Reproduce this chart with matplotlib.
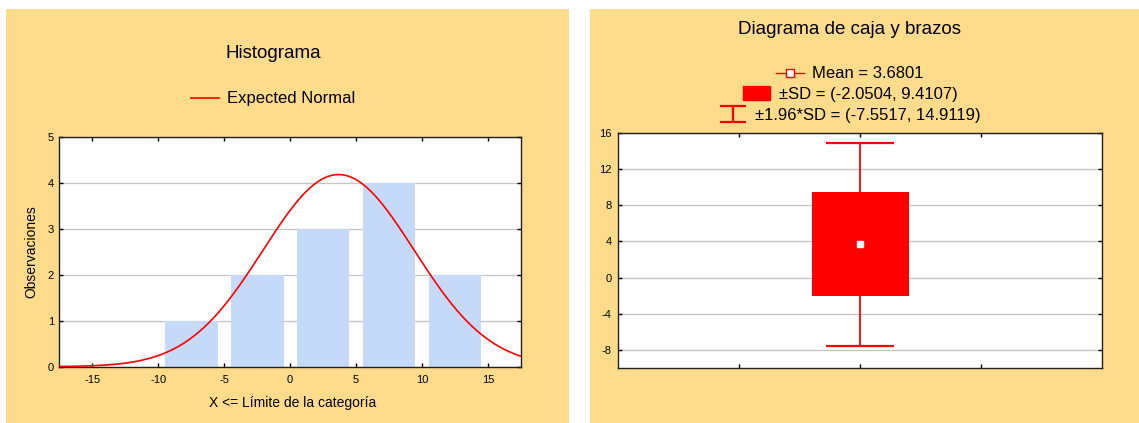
import matplotlib
matplotlib.use("Agg")
import matplotlib.pyplot as plt
import numpy as np
from matplotlib.patches import Rectangle, Patch
from matplotlib.lines import Line2D
from matplotlib.path import Path

plt.rcParams['font.family'] = ['Liberation Sans', 'DejaVu Sans']
plt.rcParams['axes.unicode_minus'] = False

# histogram data
bin_centers = [-7.5, -2.5, 2.5, 7.5, 12.5]
counts = [1, 2, 3, 4, 2]
bin_width = 5.0
x_ticks = [-15, -10, -5, 0, 5, 10, 15]
hist_yticks = [0, 1, 2, 3, 4, 5]

# box plot data
mean = 3.6801
sd_low, sd_high = -2.0504, 9.4107
ci_low, ci_high = -7.5517, 14.9119
box_yticks = [-8, -4, 0, 4, 8, 12, 16]

W, H = 1139, 423
YELLOW = '#FFDC8C'
BLUE = '#C4DAF8'
GRID = '#C4C4C4'

fig = plt.figure(figsize=(W / 100, H / 100), dpi=100)
fig.patch.set_facecolor('white')


def fx(px):
    return px / W


def fy(py):
    return 1 - py / H


# yellow panels (behind the axes)
fig.patches.append(Rectangle((fx(6), 0), fx(563), fy(9), transform=fig.transFigure,
                             facecolor=YELLOW, edgecolor='none', zorder=-5))
fig.patches.append(Rectangle((fx(590), 0), fx(549), fy(9), transform=fig.transFigure,
                             facecolor=YELLOW, edgecolor='none', zorder=-5))


def style_axes(ax, ypad):
    ax.set_facecolor('white')
    for s in ax.spines.values():
        s.set_color('#202020')
        s.set_linewidth(1.0)
    ax.tick_params(direction='in', top=True, right=True, length=3, width=1,
                   labelsize=8, colors='black')
    ax.tick_params(axis='y', pad=ypad)
    ax.grid(axis='y', color=GRID, lw=0.9, zorder=1)
    ax.set_axisbelow(True)


# ---------------- histogram ----------------
ax1 = fig.add_axes([fx(59.4), fy(366.7), fx(520.8 - 59.4), (366.7 - 136.7) / H])
style_axes(ax1, 4)
ax1.tick_params(axis='x', pad=6)
ax1.bar(bin_centers, counts, width=0.8 * bin_width, color=BLUE, zorder=2)

n = sum(counts)
sd = sd_high - mean
xs = np.linspace(-17.5, 17.5, 400)
expected = n * bin_width / (sd * np.sqrt(2 * np.pi)) * np.exp(-0.5 * ((xs - mean) / sd) ** 2)
ax1.plot(xs, expected, color='red', lw=1.2, zorder=3)

ax1.set_xlim(-17.5, 17.5)
ax1.set_ylim(0, 5)
ax1.set_xticks(x_ticks)
ax1.set_yticks(hist_yticks)

fig.text(fx(273), fy(54), 'Histograma', ha='center', va='center', fontsize=13.5)
fig.text(fx(293), fy(403), 'X <= Límite de la categoría', ha='center', va='center', fontsize=10)
fig.text(fx(31), fy(252), 'Observaciones', ha='center', va='center', rotation=90, fontsize=10)
fig.legend(handles=[Line2D([], [], color='red', lw=1.2)], labels=['Expected Normal'],
           loc='center', bbox_to_anchor=(fx(273), fy(99)), frameon=False, fontsize=12,
           handlelength=1.7, handletextpad=0.5)

# ---------------- box plot ----------------
ax2 = fig.add_axes([fx(618), fy(368.3), fx(1102.3 - 618), (368.3 - 132.7) / H])
style_axes(ax2, 4.5)
xpos = 2
ax2.vlines(xpos, ci_low, ci_high, color='red', lw=1.3, zorder=2)
ax2.hlines([ci_low, ci_high], xpos - 0.28, xpos + 0.28, color='red', lw=1.6, zorder=2)
ax2.bar([xpos], [sd_high - sd_low], bottom=sd_low, width=0.8, color='red', zorder=3)
ax2.plot([xpos], [mean], marker='s', ms=5, mfc='white', mec='white', ls='none', zorder=4)
ax2.set_xlim(0, 4)
ax2.set_ylim(-10, 16)
ax2.set_xticks([1, 2, 3])
ax2.set_xticklabels([])
ax2.set_yticks(box_yticks)

fig.text(fx(850), fy(29), 'Diagrama de caja y brazos', ha='center', va='center', fontsize=13.5)

ibeam = Path([(-1, 0.6), (1, 0.6), (0, 0.6), (0, -0.6), (-1, -0.6), (1, -0.6)],
             [Path.MOVETO, Path.LINETO, Path.MOVETO, Path.LINETO, Path.MOVETO, Path.LINETO])
legend_rows = [
    (Line2D([], [], color='red', lw=1, marker='s', ms=6, mfc='white', mec='red'),
     'Mean = %.4f' % mean, 0.7, 74),
    (Patch(facecolor='red', edgecolor='red'),
     '±SD = (%.4f, %.4f)' % (sd_low, sd_high), 0.95, 94),
    (Line2D([], [], ls='none', marker=ibeam, ms=18.5, mec='red', mew=1.6, mfc='none'),
     '±1.96*SD = (%.4f, %.4f)' % (ci_low, ci_high), 0.7, 115),
]
for handle, label, hh, ypix in legend_rows:
    fig.legend(handles=[handle], labels=[label], loc='center',
               bbox_to_anchor=(fx(850), fy(ypix)), frameon=False, fontsize=12,
               handlelength=1.65, handleheight=hh, handletextpad=0.5)

fig.savefig('out.png', dpi=100)
